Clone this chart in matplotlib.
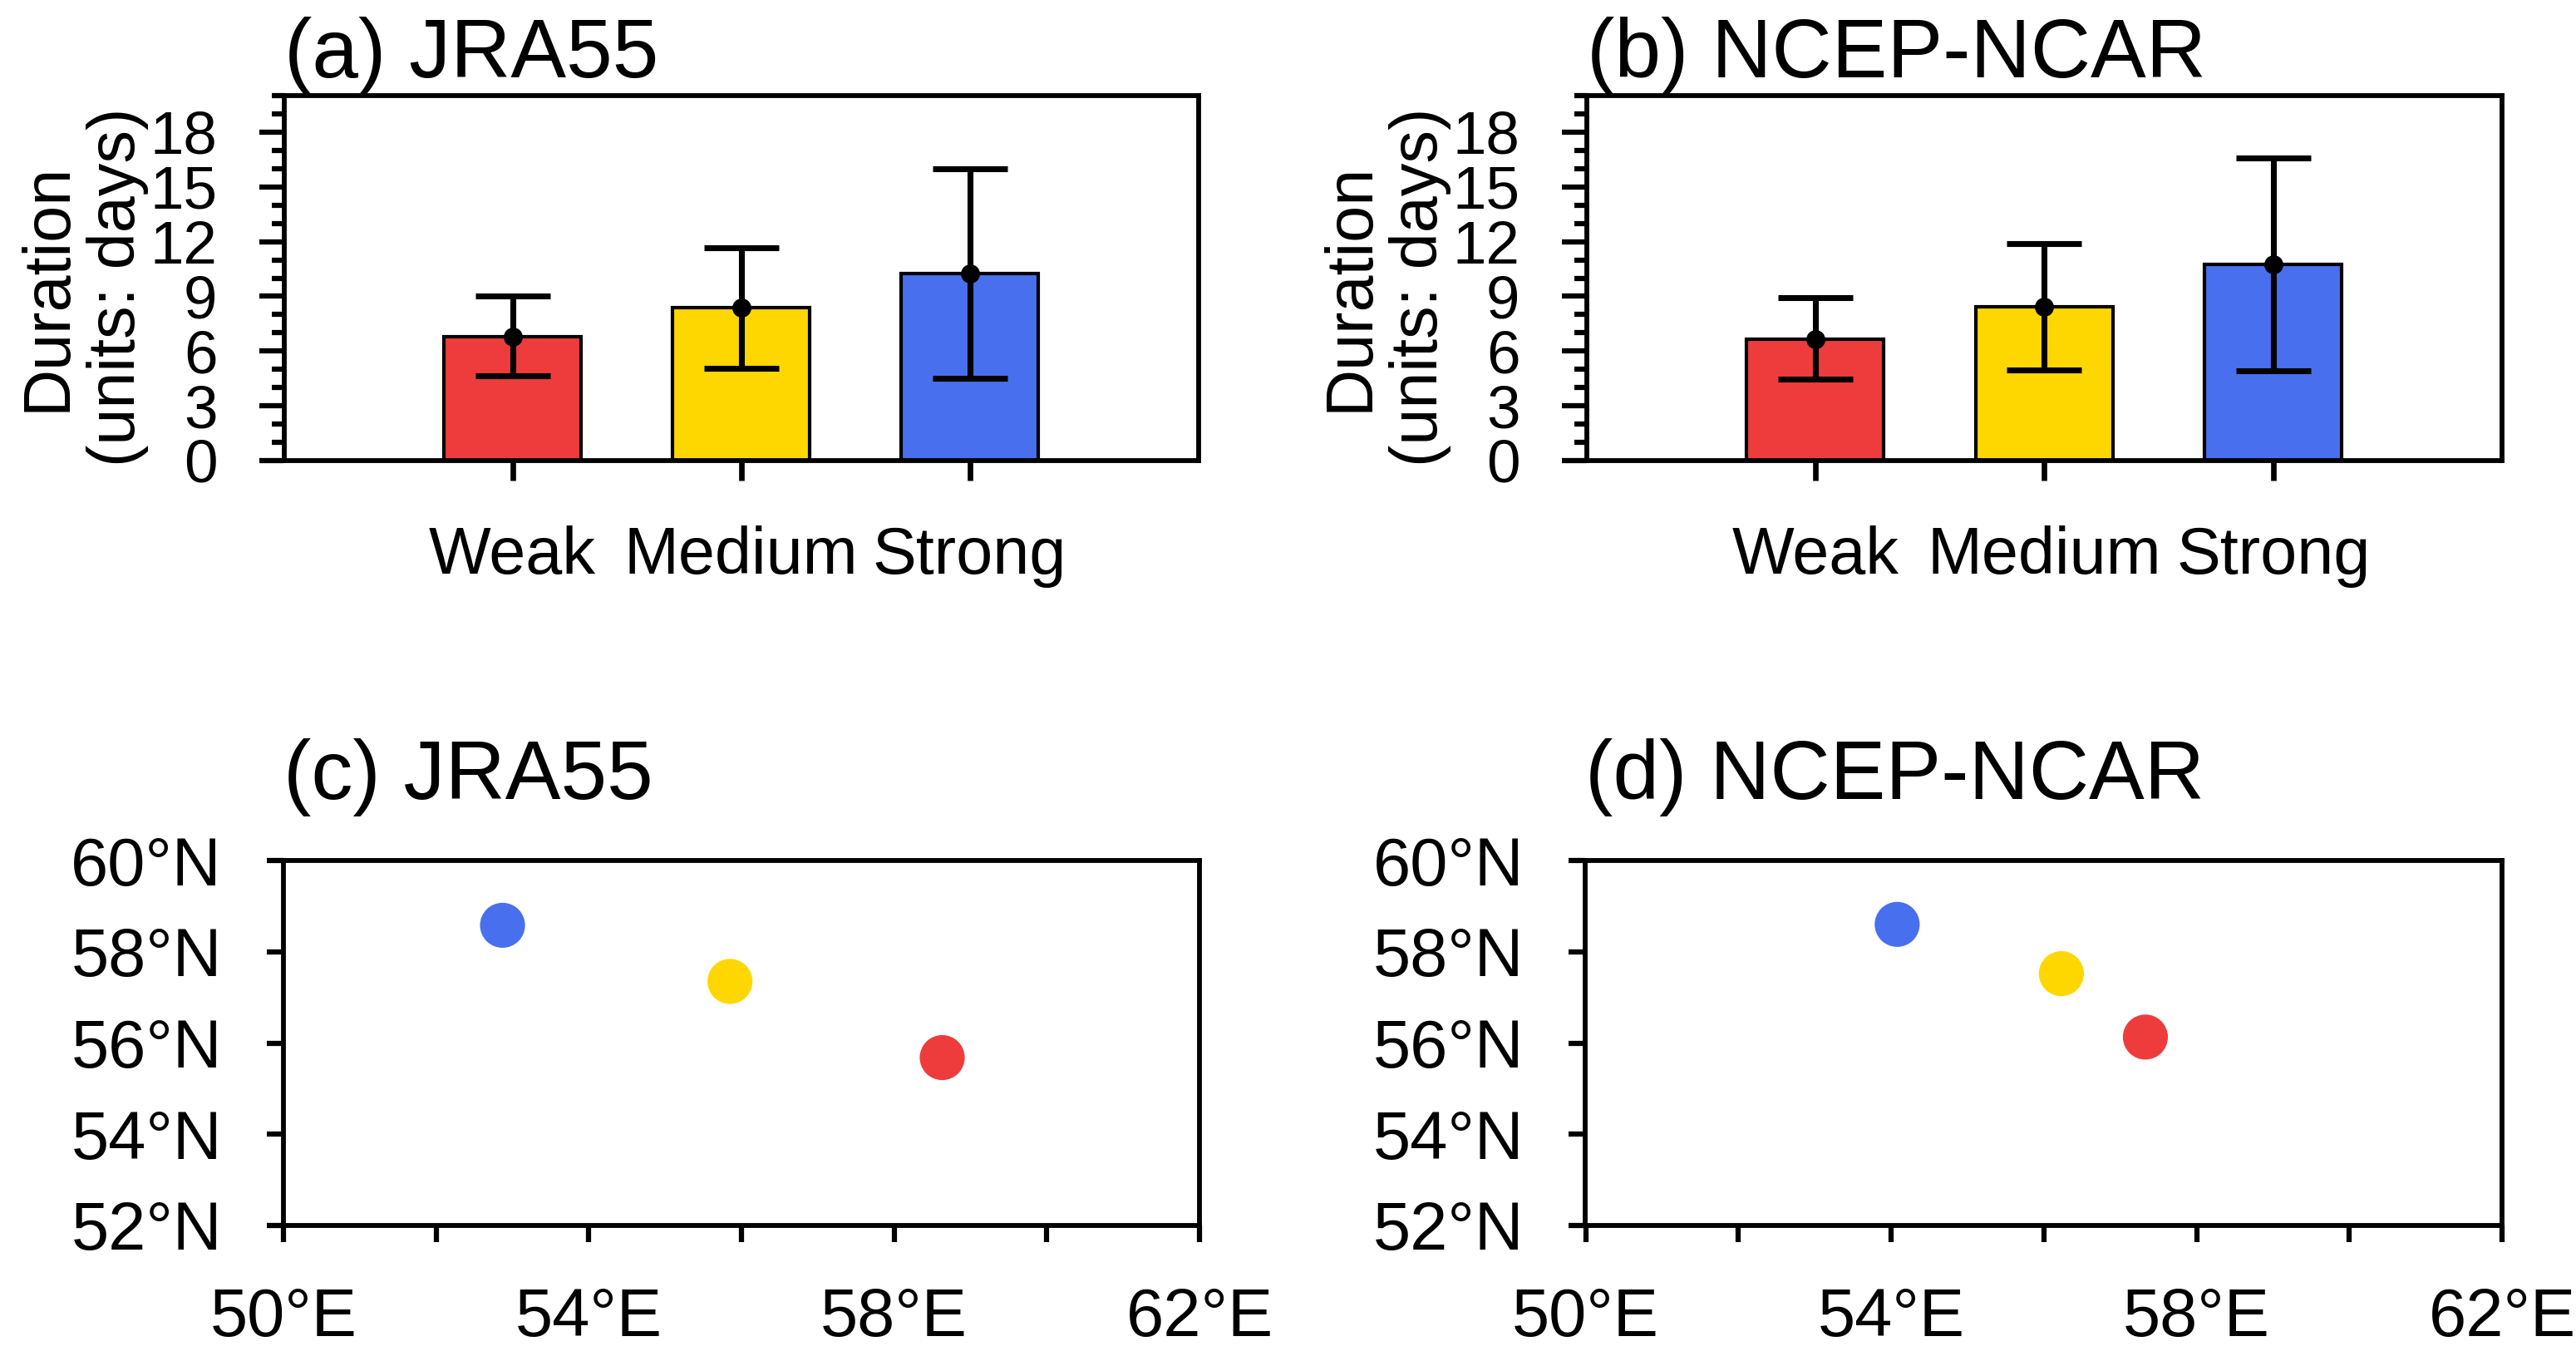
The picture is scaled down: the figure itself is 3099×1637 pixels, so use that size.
import numpy as np
import matplotlib
matplotlib.use('Agg')
import matplotlib.pyplot as plt
from matplotlib.ticker import MultipleLocator, FixedLocator

plt.rcParams['font.family'] = ['Liberation Sans', 'DejaVu Sans']

# ---------------- data ----------------
cats = ['Weak', 'Medium', 'Strong']
colors = ['#EE3C3C', '#FFD700', '#4870EE']

# duration means and error bar ends (days)
jra_mean = [6.80, 8.40, 10.25]
jra_hi = [9.00, 11.66, 15.98]
jra_lo = [4.66, 5.07, 4.50]

ncep_mean = [6.67, 8.45, 10.76]
ncep_hi = [8.95, 11.90, 16.60]
ncep_lo = [4.47, 4.98, 4.90]

# locations (Weak, Medium, Strong)
jra_lon = [58.63, 55.85, 52.87]
jra_lat = [55.68, 57.35, 58.58]
ncep_lon = [57.33, 56.23, 54.08]
ncep_lat = [56.13, 57.52, 58.60]

titles = ['(a) JRA55', '(b) NCEP-NCAR', '(c) JRA55', '(d) NCEP-NCAR']

# ---------------- figure ----------------
W, H = 3099, 1637
fig = plt.figure(figsize=(W / 300, H / 300), dpi=300)

def px_axes(left, right, top, bottom):
    return fig.add_axes([left / W, 1 - bottom / H, (right - left) / W, (bottom - top) / H])

ax_a = px_axes(341.5, 1441.5, 115, 554)
ax_b = px_axes(1908.5, 3010, 115, 554)
ax_c = px_axes(341, 1443, 1035, 1474)
ax_d = px_axes(1907.5, 3010, 1035, 1474)

lw_spine = 1.4


def bar_panel(ax, mean, lo, hi, title):
    x = np.arange(1, len(cats) + 1)
    mean = np.array(mean)
    ax.bar(x, mean, width=0.6, color=colors, edgecolor='k', linewidth=1.0, zorder=2)
    yerr = [mean - np.array(lo), np.array(hi) - mean]
    ax.errorbar(x, mean, yerr=yerr, fmt='o', color='k', ms=4.5, elinewidth=1.7,
                capsize=10.7, capthick=1.7, zorder=3)
    ax.set_xlim(0, 4)
    ax.set_ylim(0, 20)
    ax.set_xticks(x)
    ax.set_xticklabels(cats, fontsize=19)
    ax.yaxis.set_major_locator(FixedLocator(np.arange(0, 19, 3)))
    ax.yaxis.set_minor_locator(MultipleLocator(1))
    ax.tick_params(axis='y', which='major', length=7.2, width=1.5, pad=12, labelsize=17.5,
                   direction='out')
    ax.tick_params(axis='y', which='minor', length=3.6, width=1.5, direction='out')
    ax.tick_params(axis='x', which='major', length=5.8, width=1.6, pad=13, direction='out')
    for s in ax.spines.values():
        s.set_linewidth(lw_spine)
        s.set_zorder(4)
    ax.text(-0.2195, 0.476, 'Duration\n(units: days)', transform=ax.transAxes,
            rotation=90, ha='center', va='center', fontsize=19, linespacing=1.15,
            multialignment='center')
    ax.set_title(title, loc='left', fontsize=24, pad=5.3)


def loc_panel(ax, lon, lat, title):
    ax.scatter(lon, lat, s=13 ** 2, c=colors, edgecolors='none', zorder=3)
    ax.set_xlim(50, 62)
    ax.set_ylim(52, 60)
    ax.set_xticks(np.arange(50, 63, 4))
    ax.set_xticklabels([f'{v}°E' for v in range(50, 63, 4)])
    ax.xaxis.set_minor_locator(MultipleLocator(2))
    ax.set_yticks(np.arange(52, 61, 2))
    ax.set_yticklabels([f'{v}°N' for v in range(52, 61, 2)])
    ax.tick_params(which='both', length=4.8, width=1.5, direction='out')
    ax.tick_params(which='major', labelsize=19.5, pad=13)
    for s in ax.spines.values():
        s.set_linewidth(lw_spine)
    ax.set_title(title, loc='left', fontsize=24, pad=17.8)


bar_panel(ax_a, jra_mean, jra_lo, jra_hi, titles[0])
bar_panel(ax_b, ncep_mean, ncep_lo, ncep_hi, titles[1])
loc_panel(ax_c, jra_lon, jra_lat, titles[2])
loc_panel(ax_d, ncep_lon, ncep_lat, titles[3])

fig.savefig('out.png', dpi=300, facecolor='white')
